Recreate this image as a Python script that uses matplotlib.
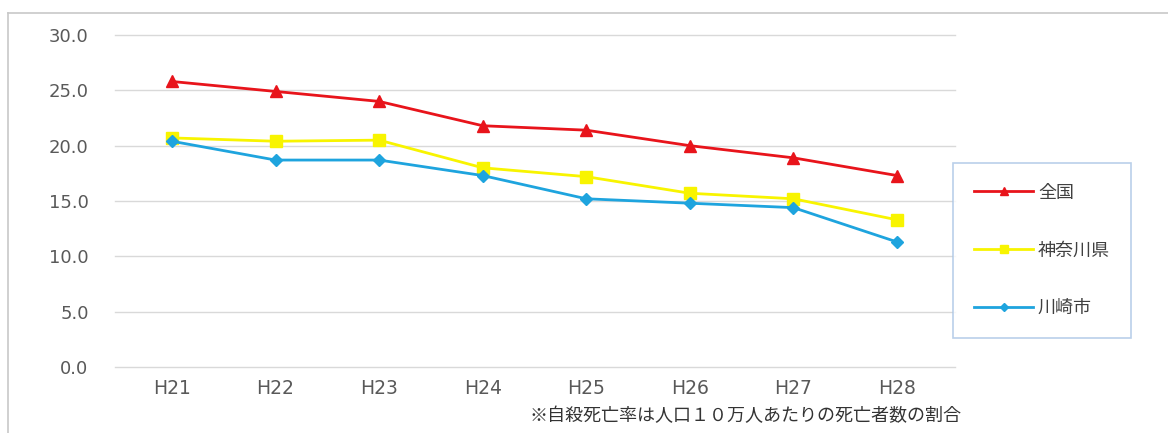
import matplotlib
matplotlib.use("Agg")
import matplotlib.pyplot as plt
from matplotlib.lines import Line2D

years = ["H21", "H22", "H23", "H24", "H25", "H26", "H27", "H28"]
zenkoku = [25.8, 24.9, 24.0, 21.8, 21.4, 20.0, 18.9, 17.3]
kanagawa = [20.7, 20.4, 20.5, 18.0, 17.2, 15.7, 15.2, 13.3]
kawasaki = [20.4, 18.7, 18.7, 17.3, 15.2, 14.8, 14.4, 11.3]
series_names = ["全国", "神奈川県", "川崎市"]
yticks = [0, 5, 10, 15, 20, 25, 30]
note = "※自殺死亡率は人口１０万人あたりの死亡者数の割合"

plt.rcParams['font.family'] = ['Noto Sans CJK JP', 'DejaVu Sans']

fig = plt.figure(figsize=(11.68, 4.33), dpi=100)
W, H = 1168, 433
ax = fig.add_axes([115 / W, (H - 367) / H, 840 / W, 332 / H])

x = list(range(len(years)))
red, yellow, blue = "#e8141b", "#f8f400", "#1ea4de"
ax.plot(x, zenkoku, color=red, lw=2.0, marker="^", ms=9, label=series_names[0], zorder=3)
ax.plot(x, kanagawa, color=yellow, lw=2.0, marker="s", ms=9, label=series_names[1], zorder=3)
ax.plot(x, kawasaki, color=blue, lw=2.0, marker="D", ms=6.5, label=series_names[2], zorder=3)

ax.set_xlim(-0.55, 7.56)
ax.set_ylim(0, 30)
ax.set_yticks(yticks)
ax.set_yticklabels([f"{v:.1f}" for v in yticks], family="DejaVu Sans", fontsize=13, color="#595959")
ax.set_xticks(x)
ax.set_xticklabels(years, family="DejaVu Sans", fontsize=13.5, color="#595959")
ax.tick_params(axis="both", length=0)
ax.tick_params(axis="y", pad=19)
ax.tick_params(axis="x", pad=9)
ax.grid(axis="y", color="#d9d9d9", lw=1)
for gl in ax.get_ygridlines():
    gl.set_clip_on(False)
ax.set_axisbelow(True)
for s in ax.spines.values():
    s.set_visible(False)

leg = fig.legend(loc="upper left", bbox_to_anchor=(953 / W, 1 - 163 / H), frameon=True,
                 fontsize=13, labelspacing=2.2, handlelength=3.3, handletextpad=0.25,
                 borderpad=1.15, borderaxespad=0, markerscale=0.7, fancybox=False)
leg.get_frame().set_edgecolor("#a9c4e4")
leg.get_frame().set_linewidth(1.2)
for t in leg.get_texts():
    t.set_color("#404040")

fig.text(530 / W, 1 - 416 / H, note, fontsize=13, color="#333333", va="center", ha="left")

fig.add_artist(Line2D([8 / W, 1.0], [1 - 13 / H, 1 - 13 / H], color="#c8c8c8", lw=1.2, transform=fig.transFigure))
fig.add_artist(Line2D([8 / W, 8 / W], [0, 1 - 13 / H], color="#c8c8c8", lw=1.2, transform=fig.transFigure))

fig.savefig("out.png", dpi=100)
